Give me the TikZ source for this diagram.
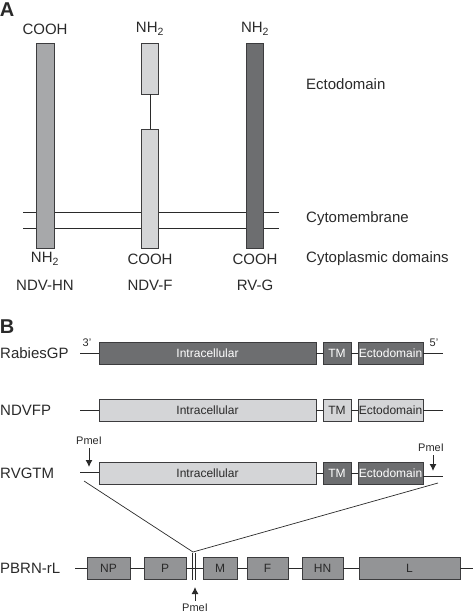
\documentclass[tikz,border=0pt]{standalone}
\usepackage{fontspec}
\setmainfont{Liberation Sans}
\usetikzlibrary{arrows.meta}
\definecolor{gpDark}{HTML}{6D6E70}
\definecolor{gpMid}{HTML}{A7A8AA}
\definecolor{gpGene}{HTML}{939496}
\definecolor{gpLight}{HTML}{D4D5D7}
\definecolor{gpEdge}{HTML}{3C3C3E}
\definecolor{gpText}{HTML}{2A2A2A}

\begin{document}
\begin{tikzpicture}[x=1pt, y=-1pt,
  bar/.style={draw=gpEdge, line width=0.8pt, minimum width=17pt, inner sep=0pt},
  seg/.style={draw=gpEdge, line width=0.8pt, minimum height=22pt, inner sep=0pt,
    font=\fontsize{12}{14}\selectfont},
  lab/.style={inner sep=0pt, text=gpText, font=\fontsize{15}{18}\selectfont},
  tiny/.style={inner sep=0pt, text=gpText, font=\fontsize{11}{12}\selectfont},
  panel/.style={inner sep=0pt, text=gpText, font=\fontsize{20}{22}\selectfont\bfseries},
  wire/.style={draw=gpText, line width=0.7pt},
  cut/.style={draw=gpText, line width=1pt, -{Latex[length=7pt, width=7pt]}}]
  \useasboundingbox (0,0) rectangle (473,615);

  % ---------------- Panel A ----------------
  \node[panel] (pA) at (7,10) {A};

  % membrane, drawn first so the bars sit on top
  \coordinate (m1a) at (23,212);  \coordinate (m1b) at (279,212);
  \coordinate (m2a) at (23,228);  \coordinate (m2b) at (279,228);
  \draw[wire] (m1a) -- (m1b);
  \draw[wire] (m2a) -- (m2b);

  % the three proteins
  \node[bar, fill=gpMid, minimum width=18pt, minimum height=205pt] (hn) at (45,145.5) {};
  \node[bar, fill=gpLight, minimum height=51pt] (fTop) at (150,68.5) {};
  \node[bar, fill=gpLight, minimum height=119pt] (fBot) at (150,188.5) {};
  \node[bar, fill=gpDark, minimum height=205pt] (rvg) at (255,145.5) {};
  \draw[wire] (fTop.south) -- (fBot.north);

  % termini
  \node[lab] (hnTop) at (45,29) {COOH};
  \node[lab] (fTopL) at (150,29) {NH\textsubscript{2}};
  \node[lab] (rvTop) at (255,29) {NH\textsubscript{2}};
  \node[lab] (hnEnd) at (45,259) {NH\textsubscript{2}};
  \node[lab] (fEnd) at (150,259) {COOH};
  \node[lab] (rvEnd) at (255,259) {COOH};

  % names
  \node[lab] (hnName) at (45,285) {NDV-HN};
  \node[lab] (fName) at (150,285) {NDV-F};
  \node[lab] (rvName) at (255,285) {RV-G};

  % regions on the right
  \node[lab, anchor=west] (ecto) at (306,84) {Ectodomain};
  \node[lab, anchor=west] (cyto) at (306,219) {Cytomembrane};
  \node[lab, anchor=west] (cplas) at (306,259) {Cytoplasmic domains};

  % ---------------- Panel B ----------------
  \node[panel] (pB) at (7,327) {B};

  % RabiesGP
  \node[lab, anchor=west] (rName) at (0,353) {RabiesGP};
  \coordinate (rStart) at (80,353);  \coordinate (rEnd) at (443,353);
  \node[seg, fill=gpDark, text=white, minimum width=217pt] (rIntra) at (207.5,353) {Intracellular};
  \node[seg, fill=gpDark, text=white, minimum width=28pt] (rTM) at (337,353) {TM};
  \node[seg, fill=gpDark, text=white, minimum width=65pt] (rEcto) at (390.5,353) {Ectodomain};
  \draw[wire] (rStart) -- (rIntra) (rIntra) -- (rTM) (rTM) -- (rEcto) (rEcto) -- (rEnd);
  \node[tiny] (r3) at (87,343) {3'};
  \node[tiny] (r5) at (434,343) {5'};

  % NDVFP
  \node[lab, anchor=west] (nName) at (0,410.5) {NDVFP};
  \coordinate (nStart) at (80,410.5);  \coordinate (nEnd) at (443,410.5);
  \node[seg, fill=gpLight, text=gpText, minimum width=217pt] (nIntra) at (207.5,410.5) {Intracellular};
  \node[seg, fill=gpLight, text=gpText, minimum width=28pt] (nTM) at (337,410.5) {TM};
  \node[seg, fill=gpLight, text=gpText, minimum width=65pt] (nEcto) at (390.5,410.5) {Ectodomain};
  \draw[wire] (nStart) -- (nIntra) (nIntra) -- (nTM) (nTM) -- (nEcto) (nEcto) -- (nEnd);

  % RVGTM
  \node[lab, anchor=west] (vName) at (0,473) {RVGTM};
  \coordinate (vStart) at (80,472);  \coordinate (vEnd) at (443,476);
  \node[seg, fill=gpLight, text=gpText, minimum width=217pt] (vIntra) at (207.5,473) {Intracellular};
  \node[seg, fill=gpDark, text=white, minimum width=28pt] (vTM) at (337,473) {TM};
  \node[seg, fill=gpDark, text=white, minimum width=65pt] (vEcto) at (390.5,473) {Ectodomain};
  \draw[wire] (vStart) -- (vIntra.west |- vStart) (vIntra) -- (vTM) (vTM) -- (vEcto)
    (vEcto.east |- vEnd) -- (vEnd);

  % PmeI sites of the insert
  \node[tiny] (pmL) at (89,441) {PmeI};
  \coordinate (pmLtip) at (89,467);
  \draw[cut] (pmL.south) ++(0,3) -- (pmLtip);
  \node[tiny] (pmR) at (431,448) {PmeI};
  \coordinate (pmRtip) at (433,471);
  \draw[cut] (pmRtip |- pmR.south) ++(0,3) -- (pmRtip);

  % PBRN-rL genome
  \node[lab, anchor=west] (gName) at (0,568) {PBRN-rL};
  \coordinate (gStart) at (75,568);  \coordinate (gEnd) at (473,568);
  \foreach \nm/\cx/\w/\txt in {gNP/108.5/43/NP, gP/165/42/P, gM/220/34/M,
                               gF/267.5/41/F, gHN/322.5/41/HN, gL/409.5/101/L}{
    \node[seg, fill=gpGene, text=gpText, minimum width=\w pt] (\nm) at (\cx,568) {\txt};
  }
  \draw[wire] (gStart) -- (gNP) (gNP) -- (gP) (gP) -- (gM) (gM) -- (gF)
    (gF) -- (gHN) (gHN) -- (gL) (gL) -- (gEnd);

  % insertion site
  \coordinate (ins) at (193,552);
  \coordinate (s1a) at (192.7,553);  \coordinate (s1b) at (192.7,580);
  \coordinate (s2a) at (195.3,553);  \coordinate (s2b) at (195.3,580);
  \draw[wire] (s1a) -- (s1b);
  \draw[wire] (s2a) -- (s2b);
  \coordinate (vL) at (84,481);  \coordinate (vR) at (438,483);
  \draw[wire] (vL) -- (ins) -- (vR);
  \node[tiny] (pmB) at (195,608) {PmeI};
  \coordinate (pmBtip) at (195,587);
  \draw[cut] (pmB.north) ++(0,-3) -- (pmBtip);
\end{tikzpicture}
\end{document}
